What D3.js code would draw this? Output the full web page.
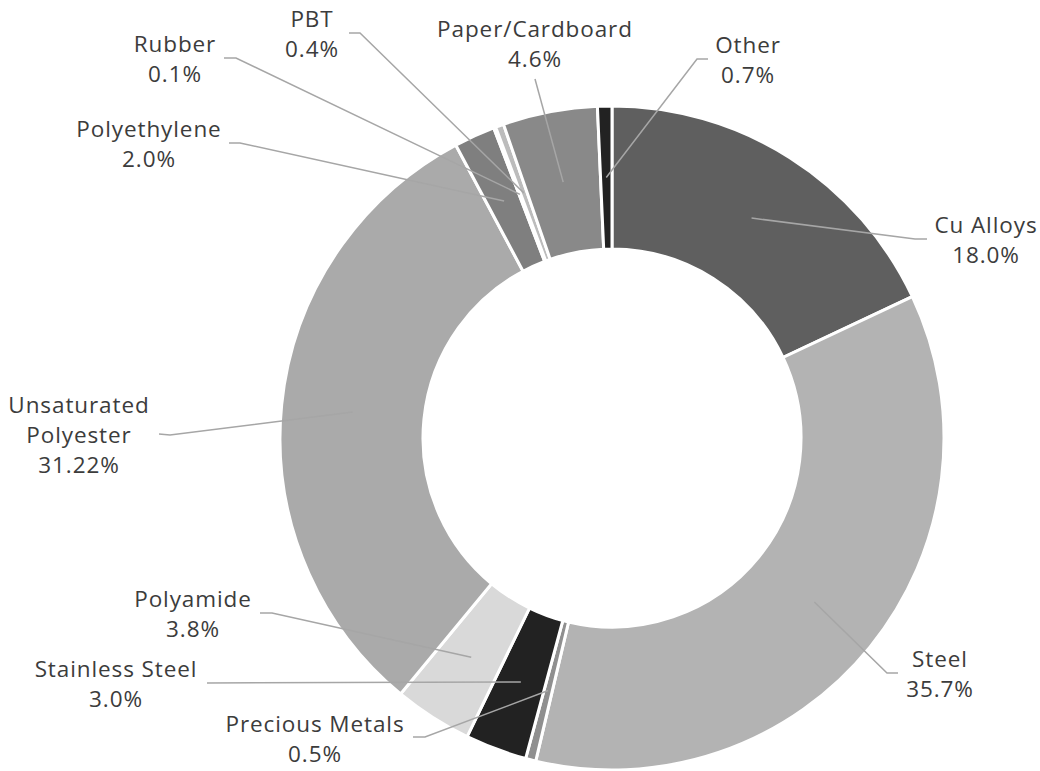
<!DOCTYPE html>
<html>
<head>
<meta charset="utf-8">
<script src="https://cdn.jsdelivr.net/npm/d3@7"></script>
<style>
  body { margin: 0; background: #fff; }
  svg text { font-family: "Open Sans", sans-serif; font-size: 22.5px; fill: #3c3c3c; letter-spacing: 0.9px; }
</style>
</head>
<body>
<div id="chart"></div>
<script>
// material shares, clockwise from 12 o'clock
var materials = ["Cu Alloys", "Steel", "Precious Metals", "Stainless Steel", "Polyamide",
                 "Unsaturated Polyester", "Polyethylene", "Rubber", "PBT", "Paper/Cardboard", "Other"];
var shares = [18.0, 35.7, 0.5, 3.0, 3.8, 31.22, 2.0, 0.1, 0.4, 4.6, 0.7];
var shareLabels = ["18.0%", "35.7%", "0.5%", "3.0%", "3.8%", "31.22%", "2.0%", "0.1%", "0.4%", "4.6%", "0.7%"];
var colors = ["#5f5f5f", "#b3b3b3", "#8f8f8f", "#222222", "#d9d9d9",
              "#aaaaaa", "#7f7f7f", "#c8c8c8", "#bcbcbc", "#898989", "#222222"];

// label layout: text centre x, first baseline y, and the leader's outer end + elbow
var labelLayout = {
  "Cu Alloys":             { x: 986, y: 233, lines: ["Cu Alloys"],             end: [927, 239], elbow: [915, 239] },
  "Steel":                 { x: 940, y: 667, lines: ["Steel"],                 end: [898, 673], elbow: [887, 673] },
  "Precious Metals":       { x: 315, y: 732, lines: ["Precious Metals"],       end: [413, 737], elbow: [425, 737] },
  "Stainless Steel":       { x: 116, y: 677, lines: ["Stainless Steel"],       end: [207, 683], elbow: null },
  "Polyamide":             { x: 193, y: 607, lines: ["Polyamide"],             end: [260, 613], elbow: [272, 613] },
  "Unsaturated Polyester": { x: 79,  y: 413, lines: ["Unsaturated", "Polyester"], end: [159, 434], elbow: [170, 435] },
  "Polyethylene":          { x: 149, y: 137, lines: ["Polyethylene"],          end: [229, 143], elbow: [240, 143] },
  "Rubber":                { x: 175, y: 52,  lines: ["Rubber"],                end: [224, 58],  elbow: [236, 58] },
  "PBT":                   { x: 312, y: 27,  lines: ["PBT"],                   end: [349, 33],  elbow: [360, 33] },
  "Paper/Cardboard":       { x: 535, y: 37,  lines: ["Paper/Cardboard"],       end: [535, 79],  elbow: null },
  "Other":                 { x: 748, y: 53,  lines: ["Other"],                 end: [708, 59],  elbow: [697, 59] }
};

var width = 1040, height = 771;
var cx = 612, cy = 438, outerR = 332, innerR = 189;
var lineStep = 30;

var data = materials.map(function (m, i) {
  return { name: m, value: shares[i], label: shareLabels[i], color: colors[i] };
});

var svg = d3.select("#chart").append("svg")
  .attr("width", width)
  .attr("height", height);

var pie = d3.pie().sort(null).value(function (d) { return d.value; });
var arc = d3.arc().innerRadius(innerR).outerRadius(outerR);
var midArc = d3.arc().innerRadius((innerR + outerR) / 2).outerRadius((innerR + outerR) / 2);

var ring = svg.append("g").attr("transform", "translate(" + cx + "," + cy + ")");

ring.selectAll("path.slice")
  .data(pie(data))
  .enter().append("path")
    .attr("class", "slice")
    .attr("d", arc)
    .attr("fill", function (d) { return d.data.color; })
    .attr("stroke", "#fff")
    .attr("stroke-width", 3);

// leader lines
ring.selectAll("polyline.leader")
  .data(pie(data))
  .enter().append("polyline")
    .attr("class", "leader")
    .attr("fill", "none")
    .attr("stroke", "#a6a6a6")
    .attr("stroke-width", 1.5)
    .attr("points", function (d) {
      var lay = labelLayout[d.data.name];
      var c = midArc.centroid(d);
      var pts = [[lay.end[0] - cx, lay.end[1] - cy]];
      if (lay.elbow) pts.push([lay.elbow[0] - cx, lay.elbow[1] - cy]);
      pts.push(c);
      return pts.map(function (p) { return p.join(","); }).join(" ");
    });

// labels
var labels = svg.selectAll("text.label")
  .data(data)
  .enter().append("text")
    .attr("class", "label")
    .attr("text-anchor", "middle")
    .attr("x", function (d) { return labelLayout[d.name].x; })
    .attr("y", function (d) { return labelLayout[d.name].y; });

labels.each(function (d) {
  var t = d3.select(this);
  var lay = labelLayout[d.name];
  lay.lines.concat([d.label]).forEach(function (s, i) {
    t.append("tspan")
      .attr("x", lay.x)
      .attr("y", lay.y + i * lineStep)
      .text(s);
  });
});
</script>
</body>
</html>
